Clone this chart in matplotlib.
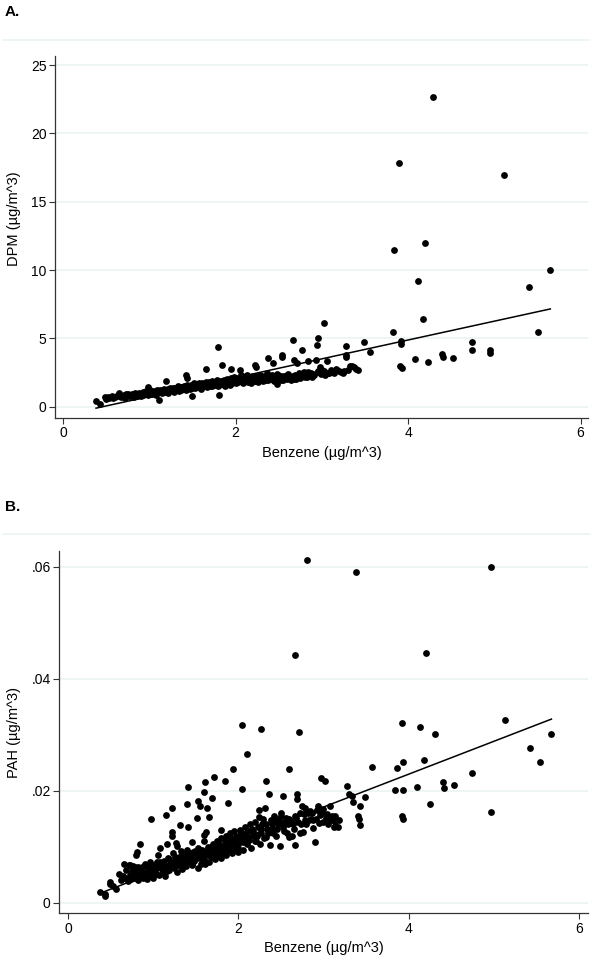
import numpy as np
import matplotlib
matplotlib.use("Agg")
import matplotlib.pyplot as plt
from matplotlib.lines import Line2D

plt.rcParams["font.family"] = ["Liberation Sans", "DejaVu Sans"]

# ── Data ─────────────────────────────────────────────────────────────────────

# Panel A: benzene vs DPM
benzene_a = [
    0.38, 0.43, 0.48, 0.50, 0.53, 0.56, 0.60, 0.62, 0.65, 0.67, 0.70, 0.72, 0.75,
    0.78, 0.80, 0.82, 0.85, 0.88, 0.90, 0.92, 0.95, 0.98, 0.98, 1.00, 1.02, 1.05,
    1.07, 1.10, 1.11, 1.12, 1.15, 1.17, 1.19, 1.20, 1.22, 1.24, 1.25, 1.28, 1.30,
    1.32, 1.34, 1.36, 1.38, 1.40, 1.42, 1.43, 1.42, 1.44, 1.45, 1.47, 1.49, 1.50,
    1.52, 1.53, 1.55, 1.57, 1.58, 1.60, 1.62, 1.63, 1.65, 1.65, 1.67, 1.68, 1.70,
    1.72, 1.73, 1.75, 1.77, 1.78, 1.80, 1.80, 1.81, 1.82, 1.84, 1.84, 1.86, 1.88,
    1.90, 1.91, 1.93, 1.95, 1.95, 1.97, 1.98, 2.00, 2.02, 2.04, 2.05, 2.06, 2.08,
    2.10, 2.12, 2.14, 2.16, 2.18, 2.20, 2.22, 2.22, 2.24, 2.24, 2.26, 2.28, 2.30,
    2.32, 2.34, 2.36, 2.38, 2.38, 2.40, 2.42, 2.43, 2.44, 2.46, 2.48, 2.48, 2.50,
    2.52, 2.54, 2.54, 2.55, 2.57, 2.59, 2.60, 2.62, 2.64, 2.65, 2.67, 2.68, 2.69,
    2.70, 2.71, 2.72, 2.74, 2.75, 2.77, 2.77, 2.78, 2.80, 2.82, 2.84, 2.84, 2.86,
    2.89, 2.90, 2.93, 2.94, 2.96, 2.96, 2.98, 3.00, 3.01, 3.02, 3.04, 3.06, 3.08,
    3.11, 3.14, 3.16, 3.20, 3.24, 3.28, 3.28, 3.28, 3.30, 3.33, 3.35, 3.37, 3.40,
    3.42, 3.49, 3.56, 3.83, 3.84, 3.90, 3.91, 3.92, 3.92, 3.93, 4.08, 4.12, 4.17,
    4.20, 4.23, 4.29, 4.39, 4.40, 4.52, 4.74, 4.74, 4.95, 4.95, 5.11, 5.40, 5.51,
    5.65,
]
dpm = [
    0.44, 0.20, 0.73, 0.55, 0.62, 0.80, 0.70, 0.78, 0.98, 0.72, 0.85, 0.66, 0.90,
    0.80, 0.96, 0.70, 0.88, 1.00, 0.78, 1.05, 0.90, 1.42, 0.82, 1.10, 0.95, 1.18,
    0.88, 1.05, 0.49, 1.25, 1.00, 1.30, 1.90, 1.12, 0.98, 1.35, 1.20, 1.08, 1.40,
    1.25, 1.15, 1.45, 1.30, 1.55, 2.32, 2.08, 1.20, 1.62, 1.40, 1.28, 0.78, 1.50,
    1.70, 1.35, 1.58, 1.45, 1.75, 1.30, 1.62, 1.50, 2.74, 1.80, 1.42, 1.68, 1.55,
    1.85, 1.48, 1.70, 1.60, 1.95, 4.39, 1.52, 0.86, 1.78, 3.05, 1.65, 1.90, 1.55,
    2.05, 1.75, 1.62, 2.74, 1.95, 1.80, 2.20, 1.70, 2.00, 1.85, 2.69, 2.30, 1.75,
    1.95, 2.15, 1.82, 2.05, 1.70, 2.25, 3.05, 1.90, 2.93, 2.10, 1.80, 2.35, 2.00,
    1.88, 2.20, 2.45, 3.59, 1.95, 2.10, 2.30, 3.17, 1.90, 2.15, 1.64, 2.40, 2.05,
    2.25, 3.78, 3.61, 1.95, 2.18, 2.35, 2.05, 2.25, 1.98, 2.10, 4.88, 3.42, 2.32,
    2.05, 3.22, 2.20, 2.45, 2.10, 4.15, 2.32, 2.45, 2.20, 2.32, 3.35, 2.55, 2.25,
    2.20, 2.40, 3.42, 4.52, 5.00, 2.60, 2.90, 2.70, 2.55, 6.15, 2.35, 3.35, 2.50,
    2.56, 2.45, 2.74, 2.60, 2.50, 4.42, 3.78, 3.61, 2.70, 3.00, 2.95, 2.88, 2.75,
    2.69, 4.71, 4.03, 5.45, 11.47, 17.84, 2.98, 4.83, 4.59, 2.81, 3.49, 9.22, 6.40,
    11.98, 3.30, 22.65, 3.86, 3.62, 3.59, 4.74, 4.15, 4.15, 3.95, 16.94, 8.79, 5.49,
    9.98,
]
# overlapping points inside the dense band
benzene_a_dense = [
    0.52, 0.58, 0.63, 0.68, 0.73, 0.76, 0.79, 0.83, 0.86, 0.89, 0.93, 0.96, 0.99,
    1.01, 1.03, 1.06, 1.09, 1.13, 1.16, 1.18, 1.21, 1.23, 1.26, 1.27, 1.29, 1.31,
    1.33, 1.35, 1.37, 1.39, 1.41, 1.43, 1.46, 1.48, 1.49, 1.51, 1.54, 1.56, 1.59,
    1.61, 1.64, 1.66, 1.69, 1.71, 1.74, 1.76, 1.79, 1.81, 1.83, 1.85, 1.87, 1.89,
    1.92, 1.94, 1.96, 1.99, 2.01, 2.03, 2.05, 2.07, 2.09, 2.11, 2.13, 2.15, 2.17,
    2.19, 2.21, 2.23, 2.25, 2.27, 2.29, 2.31, 2.33, 2.35, 2.37, 2.39, 2.41, 2.45,
    2.47, 2.49, 2.51, 2.53, 2.56, 2.58, 2.61, 2.63, 2.66, 2.68, 2.73, 2.76, 2.79,
    2.81, 2.83, 2.87, 2.91, 2.95, 2.99, 3.03, 3.07, 3.10, 3.13, 3.18, 3.22, 3.26,
]
dpm_dense = [
    0.68, 0.62, 0.85, 0.80, 0.95, 0.75, 0.88, 1.02, 0.78, 0.92, 0.85, 1.12, 1.00,
    1.22, 0.90, 1.08, 1.20, 1.12, 1.22, 1.05, 1.28, 1.15, 1.30, 1.40, 1.22, 1.32,
    1.48, 1.35, 1.22, 1.42, 1.32, 1.52, 1.48, 1.60, 1.38, 1.58, 1.48, 1.65, 1.55,
    1.72, 1.60, 1.52, 1.78, 1.65, 1.58, 1.82, 1.70, 1.62, 1.88, 1.75, 1.98, 1.68,
    1.85, 2.08, 1.72, 1.92, 2.10, 1.78, 1.98, 2.22, 1.88, 2.05, 2.30, 1.92, 2.18,
    2.02, 1.85, 2.28, 2.00, 2.15, 1.92, 2.25, 2.08, 1.98, 2.32, 2.15, 2.02, 2.25,
    2.00, 2.30, 2.12, 1.98, 2.28, 2.10, 2.40, 2.15, 2.28, 2.00, 2.35, 2.20, 2.55,
    2.38, 2.20, 2.45, 2.30, 2.52, 2.40, 2.62, 2.45, 2.65, 2.58, 2.68, 2.55, 2.62,
]
dpm_fit = [1.378, -0.63]  # slope, intercept of fitted line

# Panel B: benzene vs PAH
benzene_b = [
    0.37, 0.43, 0.43, 0.49, 0.49, 0.53, 0.56, 0.60, 0.62, 0.65, 0.67, 0.70, 0.71,
    0.73, 0.74, 0.76, 0.78, 0.78, 0.80, 0.81, 0.82, 0.82, 0.84, 0.85, 0.87, 0.88,
    0.90, 0.91, 0.93, 0.95, 0.97, 0.97, 0.99, 1.00, 1.02, 1.04, 1.06, 1.07, 1.08,
    1.09, 1.11, 1.12, 1.14, 1.15, 1.15, 1.16, 1.17, 1.18, 1.20, 1.22, 1.22, 1.22,
    1.23, 1.24, 1.25, 1.27, 1.28, 1.28, 1.30, 1.31, 1.31, 1.33, 1.34, 1.35, 1.37,
    1.38, 1.40, 1.40, 1.41, 1.41, 1.42, 1.43, 1.45, 1.46, 1.47, 1.48, 1.50, 1.51,
    1.52, 1.53, 1.53, 1.55, 1.55, 1.56, 1.58, 1.59, 1.60, 1.60, 1.60, 1.61, 1.62,
    1.62, 1.63, 1.64, 1.65, 1.65, 1.67, 1.68, 1.69, 1.70, 1.71, 1.71, 1.73, 1.74,
    1.75, 1.76, 1.78, 1.79, 1.80, 1.80, 1.82, 1.83, 1.84, 1.85, 1.86, 1.87, 1.88,
    1.88, 1.90, 1.91, 1.92, 1.94, 1.94, 1.95, 1.96, 1.98, 1.99, 2.00, 2.02, 2.04,
    2.04, 2.04, 2.05, 2.07, 2.08, 2.10, 2.10, 2.12, 2.14, 2.15, 2.17, 2.19, 2.20,
    2.22, 2.24, 2.24, 2.25, 2.26, 2.27, 2.29, 2.30, 2.31, 2.33, 2.33, 2.35, 2.36,
    2.37, 2.38, 2.40, 2.42, 2.44, 2.46, 2.49, 2.50, 2.50, 2.52, 2.53, 2.55, 2.57,
    2.59, 2.60, 2.60, 2.63, 2.64, 2.66, 2.67, 2.67, 2.69, 2.69, 2.70, 2.71, 2.72,
    2.73, 2.75, 2.76, 2.78, 2.78, 2.80, 2.81, 2.82, 2.84, 2.85, 2.88, 2.88, 2.90,
    2.92, 2.94, 2.96, 2.97, 2.98, 3.00, 3.02, 3.03, 3.05, 3.08, 3.10, 3.12, 3.14,
    3.17, 3.18, 3.28, 3.30, 3.33, 3.35, 3.38, 3.41, 3.42, 3.43, 3.43, 3.49, 3.57,
    3.84, 3.86, 3.92, 3.92, 3.93, 3.93, 3.93, 4.10, 4.13, 4.18, 4.21, 4.25, 4.31,
    4.40, 4.42, 4.54, 4.75, 4.97, 4.97, 5.13, 5.43, 5.54, 5.68,
]
pah = [
    0.0019, 0.0012, 0.0016, 0.0037, 0.0034, 0.0029, 0.0024, 0.0052, 0.0040, 0.0069,
    0.0045, 0.0038, 0.0068, 0.0067, 0.0042, 0.0066, 0.0048, 0.0064, 0.0085, 0.0091,
    0.0040, 0.0064, 0.0104, 0.0050, 0.0064, 0.0045, 0.0070, 0.0055, 0.0042, 0.0060,
    0.0150, 0.0050, 0.0065, 0.0045, 0.0058, 0.0072, 0.0085, 0.0050, 0.0097, 0.0062,
    0.0055, 0.0075, 0.0048, 0.0157, 0.0066, 0.0104, 0.0080, 0.0058, 0.0070, 0.0169,
    0.0127, 0.0120, 0.0088, 0.0062, 0.0075, 0.0106, 0.0101, 0.0055, 0.0082, 0.0138,
    0.0068, 0.0092, 0.0060, 0.0078, 0.0085, 0.0065, 0.0177, 0.0095, 0.0207, 0.0135,
    0.0072, 0.0082, 0.0068, 0.0109, 0.0090, 0.0075, 0.0085, 0.0152, 0.0062, 0.0182,
    0.0098, 0.0173, 0.0080, 0.0070, 0.0092, 0.0110, 0.0198, 0.0121, 0.0078, 0.0216,
    0.0127, 0.0088, 0.0169, 0.0100, 0.0153, 0.0072, 0.0094, 0.0082, 0.0187, 0.0105,
    0.0225, 0.0088, 0.0078, 0.0098, 0.0110, 0.0085, 0.0095, 0.0115, 0.0130, 0.0080,
    0.0102, 0.0090, 0.0217, 0.0120, 0.0085, 0.0108, 0.0178, 0.0095, 0.0125, 0.0100,
    0.0088, 0.0238, 0.0112, 0.0128, 0.0098, 0.0118, 0.0090, 0.0105, 0.0130, 0.0318,
    0.0203, 0.0112, 0.0095, 0.0122, 0.0135, 0.0265, 0.0105, 0.0118, 0.0140, 0.0098,
    0.0128, 0.0110, 0.0145, 0.0120, 0.0166, 0.0153, 0.0105, 0.0310, 0.0132, 0.0150,
    0.0115, 0.0170, 0.0217, 0.0140, 0.0125, 0.0194, 0.0103, 0.0148, 0.0132, 0.0155,
    0.0120, 0.0140, 0.0102, 0.0161, 0.0154, 0.0135, 0.0191, 0.0145, 0.0125, 0.0118,
    0.0238, 0.0150, 0.0119, 0.0140, 0.0155, 0.0103, 0.0443, 0.0195, 0.0185, 0.0145,
    0.0305, 0.0160, 0.0125, 0.0172, 0.0127, 0.0148, 0.0170, 0.0140, 0.0612, 0.0161,
    0.0163, 0.0150, 0.0148, 0.0133, 0.0108, 0.0165, 0.0172, 0.0157, 0.0222, 0.0160,
    0.0145, 0.0218, 0.0152, 0.0140, 0.0173, 0.0155, 0.0136, 0.0145, 0.0135, 0.0148,
    0.0208, 0.0194, 0.0191, 0.0180, 0.0591, 0.0155, 0.0150, 0.0173, 0.0139, 0.0188,
    0.0242, 0.0201, 0.0240, 0.0320, 0.0155, 0.0251, 0.0201, 0.0150, 0.0206, 0.0313,
    0.0255, 0.0446, 0.0176, 0.0301, 0.0216, 0.0204, 0.0210, 0.0232, 0.0599, 0.0162,
    0.0326, 0.0277, 0.0252, 0.0301,
]
benzene_b_dense = [
    0.64, 0.68, 0.72, 0.75, 0.77, 0.79, 0.83, 0.86, 0.89, 0.92, 0.94, 0.96, 0.98,
    1.01, 1.03, 1.05, 1.08, 1.10, 1.13, 1.16, 1.19, 1.21, 1.24, 1.26, 1.29, 1.32,
    1.34, 1.36, 1.39, 1.41, 1.44, 1.46, 1.49, 1.51, 1.54, 1.57, 1.59, 1.61, 1.63,
    1.66, 1.68, 1.70, 1.72, 1.75, 1.77, 1.79, 1.81, 1.84, 1.86, 1.89, 1.91, 1.93,
    1.95, 1.97, 2.00, 2.01, 2.03, 2.06, 2.09, 2.11, 2.13, 2.16, 2.18, 2.21, 2.23,
    2.26, 2.28, 2.32, 2.34, 2.39, 2.41, 2.43, 2.45, 2.48, 2.51, 2.54, 2.56, 2.58,
    2.62, 2.65, 2.68, 2.74, 2.77, 2.83, 2.87, 2.91, 2.95, 2.99, 3.04, 3.09, 3.13,
]
pah_dense = [
    0.0048, 0.0058, 0.0050, 0.0056, 0.0044, 0.0058, 0.0052, 0.0060, 0.0052, 0.0066,
    0.0050, 0.0072, 0.0058, 0.0068, 0.0052, 0.0064, 0.0072, 0.0060, 0.0068, 0.0056,
    0.0078, 0.0064, 0.0072, 0.0082, 0.0068, 0.0076, 0.0085, 0.0070, 0.0080, 0.0088,
    0.0078, 0.0070, 0.0092, 0.0080, 0.0088, 0.0095, 0.0084, 0.0070, 0.0092, 0.0085,
    0.0100, 0.0090, 0.0096, 0.0088, 0.0105, 0.0094, 0.0088, 0.0110, 0.0098, 0.0105,
    0.0115, 0.0095, 0.0108, 0.0120, 0.0098, 0.0115, 0.0125, 0.0108, 0.0118, 0.0128,
    0.0112, 0.0132, 0.0120, 0.0110, 0.0135, 0.0125, 0.0140, 0.0118, 0.0132, 0.0140,
    0.0125, 0.0148, 0.0132, 0.0150, 0.0142, 0.0128, 0.0152, 0.0140, 0.0145, 0.0132,
    0.0152, 0.0140, 0.0158, 0.0148, 0.0160, 0.0150, 0.0142, 0.0168, 0.0158, 0.0148,
    0.0155,
]
pah_fit = [0.00586, -0.0005]

x_ticks = [0, 2, 4, 6]
dpm_ticks = [0, 5, 10, 15, 20, 25]
pah_ticks = [0, 0.02, 0.04, 0.06]
pah_ticklabels = ["0", ".02", ".04", ".06"]

GRID = "#eaf2f3"
W, H = 600, 958


def _style_ax(ax):
    for s in ("top", "right"):
        ax.spines[s].set_visible(False)
    for s in ("left", "bottom"):
        ax.spines[s].set_color("#333333")
        ax.spines[s].set_linewidth(0.9)
    ax.tick_params(direction="out", length=4, width=0.8, color="#333333",
                   labelsize=10, pad=2)
    ax.yaxis.grid(True, color=GRID, linewidth=1.1)
    ax.set_axisbelow(True)


def panel(rect, x, y, fit, yticks, ylabel, xlim, ylim, label_xy):
    ax = fig.add_axes(rect)
    ax.scatter(x, y, s=24, color="black", linewidths=0, zorder=3)
    xs = np.array([min(x), max(x)])
    ax.plot(xs, fit[0] * xs + fit[1], color="black", linewidth=1.1, zorder=4)
    ax.set_xlim(*xlim)
    ax.set_ylim(*ylim)
    ax.set_xticks(x_ticks)
    ax.set_yticks(yticks)
    ax.set_xlabel("Benzene (µg/m^3)", fontsize=10.5, labelpad=4)
    ax.set_ylabel(ylabel, fontsize=10.5)
    ax.yaxis.set_label_coords(*label_xy)
    _style_ax(ax)
    return ax


fig = plt.figure(figsize=(W / 100, H / 100), dpi=100)

# panel A
axA = panel([55 / W, 1 - 417.7 / H, 533 / W, 361.7 / H],
            benzene_a + benzene_a_dense, dpm + dpm_dense, dpm_fit, dpm_ticks,
            "DPM (µg/m^3)", (-0.096, 6.087), (-0.805, 25.67), (-0.064, 0.55))

# panel B
axB = panel([59 / W, 1 - 913.3 / H, 529 / W, 362.3 / H],
            benzene_b + benzene_b_dense, pah + pah_dense, pah_fit, pah_ticks,
            "PAH (µg/m^3)", (-0.109, 6.11), (-0.00189, 0.0628), (-0.072, 0.5))
axB.set_yticklabels(pah_ticklabels)

# panel letters and divider lines
for label, ytop, yline in [("A.", 12, 40), ("B.", 507, 534)]:
    fig.text(5 / W, 1 - ytop / H, label, fontsize=11, fontweight="bold",
             va="center", ha="left")
    fig.add_artist(Line2D([3 / W, 590 / W], [1 - yline / H, 1 - yline / H],
                          color=GRID, linewidth=1.1))

fig.savefig("out.png", dpi=100)
